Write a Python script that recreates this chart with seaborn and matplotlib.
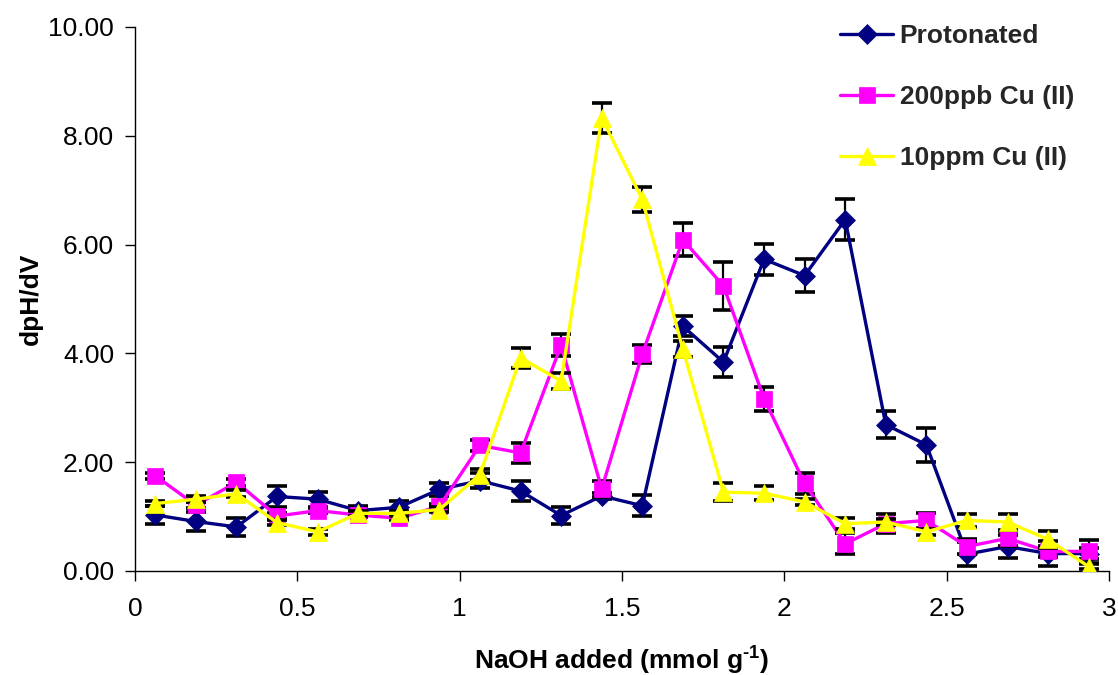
import matplotlib
matplotlib.use("Agg")
import matplotlib.pyplot as plt
from matplotlib.ticker import FormatStrFormatter, FuncFormatter
import seaborn as sns

sns.set_theme(style="ticks")
plt.rcParams["font.family"] = ["Liberation Sans", "DejaVu Sans"]
plt.rcParams["mathtext.fontset"] = "custom"
plt.rcParams["mathtext.rm"] = "Liberation Sans:bold"
plt.rcParams["mathtext.it"] = "Liberation Sans:bold"
plt.rcParams["mathtext.bf"] = "Liberation Sans:bold"

# NaOH added (mmol/g)
naoh = [0.0625, 0.1875, 0.3125, 0.4375, 0.5625, 0.6875, 0.8125, 0.9375,
        1.0625, 1.1875, 1.3125, 1.4375, 1.5625, 1.6875, 1.8125, 1.9375,
        2.0625, 2.1875, 2.3125, 2.4375, 2.5625, 2.6875, 2.8125, 2.9375]

# dpH/dV for each resin condition, with error bar half-widths
protonated = [1.03, 0.91, 0.81, 1.37, 1.32, 1.11, 1.17, 1.50,
              1.66, 1.47, 1.02, 1.38, 1.20, 4.50, 3.84, 5.73,
              5.43, 6.46, 2.69, 2.32, 0.31, 0.45, 0.32, 0.32]
protonated_err = [0.17, 0.18, 0.16, 0.19, 0.14, 0.09, 0.12, 0.12,
                  0.14, 0.19, 0.16, 0.05, 0.19, 0.18, 0.28, 0.29,
                  0.30, 0.37, 0.25, 0.31, 0.22, 0.21, 0.23, 0.10]

cu_200ppb = [1.75, 1.21, 1.63, 1.01, 1.11, 1.03, 0.97, 1.19,
             2.31, 2.17, 4.15, 1.51, 3.99, 6.09, 5.24, 3.17,
             1.61, 0.50, 0.87, 0.93, 0.45, 0.60, 0.36, 0.36]
cu_200ppb_err = [0.05, 0.06, 0.07, 0.05, 0.05, 0.04, 0.04, 0.05,
                 0.10, 0.18, 0.20, 0.15, 0.16, 0.30, 0.44, 0.22,
                 0.20, 0.19, 0.17, 0.14, 0.13, 0.14, 0.10, 0.21]

cu_10ppm = [1.24, 1.32, 1.42, 0.89, 0.72, 1.06, 1.06, 1.13,
            1.77, 3.92, 3.49, 8.33, 6.83, 4.08, 1.45, 1.43,
            1.27, 0.87, 0.90, 0.72, 0.93, 0.90, 0.58, 0.08]
cu_10ppm_err = [0.05, 0.06, 0.06, 0.05, 0.05, 0.04, 0.04, 0.05,
                0.10, 0.18, 0.15, 0.27, 0.23, 0.15, 0.16, 0.13,
                0.05, 0.10, 0.05, 0.05, 0.12, 0.14, 0.15, 0.05]

series_names = ["Protonated", "200ppb Cu (II)", "10ppm Cu (II)"]
series_values = [protonated, cu_200ppb, cu_10ppm]
series_errors = [protonated_err, cu_200ppb_err, cu_10ppm_err]
series_colors = ["#000080", "#FF00FF", "#FFFF00"]
series_markers = ["D", "s", "^"]
series_msizes = [10, 12, 13.5]

x_ticks = [0, 0.5, 1, 1.5, 2, 2.5, 3]
y_ticks = [0, 2, 4, 6, 8, 10]

fig = plt.figure(figsize=(11.18, 6.75), dpi=100)
ax = fig.add_axes([135 / 1118, 104 / 675, 974 / 1118, 544 / 675])

for i, (name, vals, errs, col, mk, ms) in enumerate(
        zip(series_names, series_values, series_errors,
            series_colors, series_markers, series_msizes)):
    # each series' error bars sit just beneath its own line and markers
    ax.errorbar(naoh, vals, yerr=errs, fmt="none", ecolor="black",
                elinewidth=1.6, capsize=7, capthick=2.6, zorder=2 + i)
    sns.lineplot(x=naoh, y=vals, ax=ax, color=col, linewidth=2.4,
                 marker=mk, markersize=ms, markeredgecolor=col,
                 markeredgewidth=0.5, label=name, zorder=2.5 + i)

ax.set_xlim(0, 3)
ax.set_ylim(0, 10)
ax.set_xticks(x_ticks)
ax.set_yticks(y_ticks)
ax.xaxis.set_major_formatter(FuncFormatter(lambda v, p: f"{v:g}"))
ax.yaxis.set_major_formatter(FormatStrFormatter("%.2f"))
ax.tick_params(axis="both", direction="out", length=7, width=1,
               color="black", labelsize=19, labelcolor="black")
ax.tick_params(axis="x", pad=12)
ax.tick_params(axis="y", pad=8)

for side in ["left", "bottom"]:
    ax.spines[side].set_color("black")
    ax.spines[side].set_linewidth(1)
sns.despine(ax=ax)

ax.set_xlabel(r"NaOH added (mmol g$^{\text{-}1}$)", fontsize=19,
              fontweight="bold", color="black", labelpad=17)
ax.set_ylabel("dpH/dV", fontsize=19, fontweight="bold", color="black",
              labelpad=4)

ax.legend(loc="upper left", bbox_to_anchor=(0.724, 1.005), frameon=False,
          prop={"weight": "bold", "size": 19}, handlelength=2.0,
          handletextpad=0.25, labelspacing=1.4, borderpad=0,
          borderaxespad=0)

fig.savefig("out.png", dpi=100, facecolor="white")
